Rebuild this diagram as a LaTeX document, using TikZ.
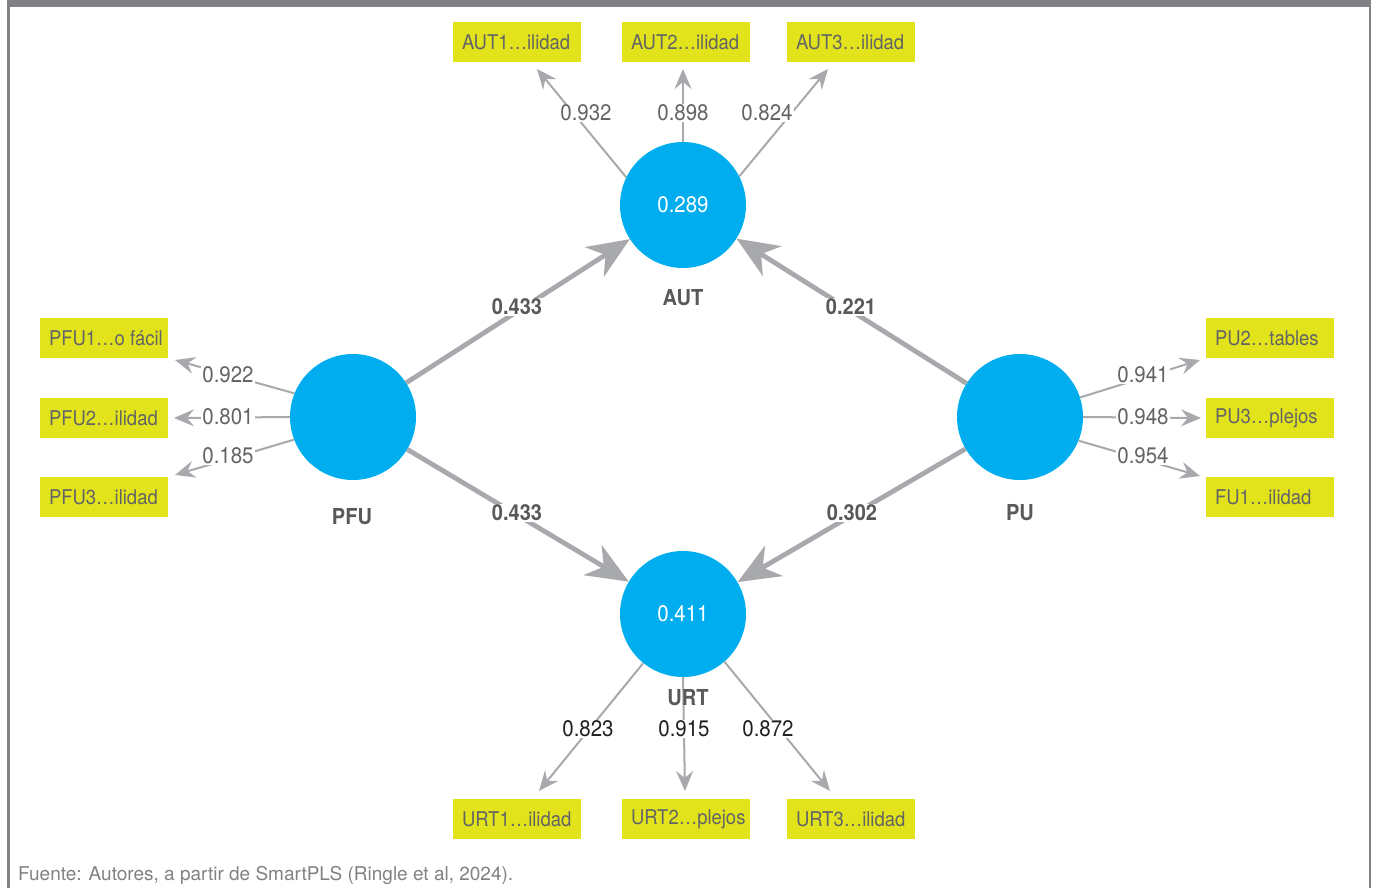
\documentclass[tikz,border=0pt]{standalone}
\usepackage{fontspec}
\setmainfont{TeX Gyre Heros}
\newfontfamily\cfont[FakeStretch=0.91]{TeX Gyre Heros}
\usetikzlibrary{arrows.meta}
\definecolor{cyanc}{HTML}{00AEEF}
\definecolor{yelc}{HTML}{E2E31A}
\definecolor{arrc}{HTML}{A7A9AC}
\definecolor{txtc}{HTML}{636466}
\definecolor{dtxt}{HTML}{58595B}
\definecolor{bordc}{HTML}{808184}
\definecolor{blk}{HTML}{231F20}
\newcommand\indtext[1]{\makebox[110pt][l]{#1}}
\tikzset{
  lvbox/.style={circle, fill=cyanc, minimum size=126pt, inner sep=0pt, text=white, font=\cfont\fontsize{22.5}{24}\selectfont},
  indbox/.style={rectangle, fill=yelc, inner xsep=9pt, inner ysep=0pt, minimum width=128pt, minimum height=40pt, text=txtc, font=\cfont\fontsize{20.3}{22}\selectfont},
  loadarr/.style={draw=arrc, line width=2pt, -{Stealth[length=20pt,width=17pt,inset=7pt]}},
  patharr/.style={draw=arrc, line width=4.8pt, -{Stealth[length=42pt,width=35pt,inset=13pt]}},
  loadlbl/.style={fill=white, inner sep=1pt, text=txtc, font=\cfont\fontsize{22.5}{24}\selectfont},
  pathlbl/.style={fill=white, inner sep=1pt, text=dtxt, font=\cfont\bfseries\fontsize{22}{24}\selectfont},
  cname/.style={inner sep=0pt, text=dtxt, font=\cfont\bfseries\fontsize{22}{24}\selectfont}
}
\begin{document}
\begin{tikzpicture}[x=1pt,y=-1pt]
\useasboundingbox (0,0) rectangle (1373,888);
% frame
\fill[bordc] (7,0) rectangle (1371,7);
\fill[bordc] (7,0) rectangle (9.5,888);
\fill[bordc] (1368.5,0) rectangle (1371,888);
% latent variables
\node[lvbox] (AUT) at (683,205) {0.289};
\node[lvbox] (URT) at (683,614) {0.411};
\node[lvbox] (PFU) at (353,417) {};
\node[lvbox] (PU) at (1020,417) {};
% indicators
\node[indbox] (AUT1) at (517,42) {\indtext{AUT1…ilidad}};
\node[indbox] (AUT2) at (686,42) {\indtext{AUT2…ilidad}};
\node[indbox] (AUT3) at (851,42) {\indtext{AUT3…ilidad}};
\node[indbox] (PFU1) at (104,338) {\indtext{PFU1…o fácil}};
\node[indbox] (PFU2) at (104,418) {\indtext{PFU2…ilidad}};
\node[indbox] (PFU3) at (104,497) {\indtext{PFU3…ilidad}};
\node[indbox] (PU2) at (1270,338) {\indtext{PU2…tables}};
\node[indbox] (PU3) at (1270,418) {\indtext{PU3…plejos}};
\node[indbox] (FU1) at (1270,497) {\indtext{FU1…ilidad}};
\node[indbox] (URT1) at (517,819) {\indtext{URT1…ilidad}};
\node[indbox] (URT2) at (686,819) {\indtext{URT2…plejos}};
\node[indbox] (URT3) at (851,819) {\indtext{URT3…ilidad}};
% arrow tips near the indicators
\coordinate (tAUT1) at (537,69);
\coordinate (tAUT2) at (683,69);
\coordinate (tAUT3) at (828,69);
\coordinate (tPFU1) at (175,360);
\coordinate (tPFU2) at (174,418);
\coordinate (tPFU3) at (175,475);
\coordinate (tPU2) at (1200,360);
\coordinate (tPU3) at (1201,418);
\coordinate (tFU1) at (1200,476);
\coordinate (tURT1) at (539,791);
\coordinate (tURT2) at (685,791);
\coordinate (tURT3) at (830,791);
% loading arrows
\draw[loadarr] (AUT.154) -- (tAUT1);
\draw[loadarr] (AUT.north) -- (tAUT2);
\draw[loadarr] (AUT.27) -- (tAUT3);
\draw[loadarr] (PFU.158) -- (tPFU1);
\draw[loadarr] (PFU.west) -- (tPFU2);
\draw[loadarr] (PFU.201) -- (tPFU3);
\draw[loadarr] (PU.18) -- (tPU2);
\draw[loadarr] (PU.east) -- (tPU3);
\draw[loadarr] (PU.338) -- (tFU1);
\draw[loadarr] (URT.231) -- (tURT1);
\draw[loadarr] (URT.south) -- (tURT2);
\draw[loadarr] (URT.311) -- (tURT3);
% structural paths
\draw[patharr] (PFU) -- (AUT);
\draw[patharr] (PU) -- (AUT);
\draw[patharr] (PFU) -- (URT);
\draw[patharr] (PU) -- (URT);
% loading labels
\node[loadlbl] (l1) at (586,113) {0.932};
\node[loadlbl] (l2) at (683,113) {0.898};
\node[loadlbl] (l3) at (767,113) {0.824};
\node[loadlbl] (l4) at (228,375) {0.922};
\node[loadlbl] (l5) at (228,417) {0.801};
\node[loadlbl] (l6) at (228,456) {0.185};
\node[loadlbl] (l7) at (1143,375) {0.941};
\node[loadlbl] (l8) at (1143,417) {0.948};
\node[loadlbl] (l9) at (1143,456) {0.954};
\node[loadlbl,text=blk] (l10) at (588,729) {0.823};
\node[loadlbl,text=blk] (l11) at (684,729) {0.915};
\node[loadlbl,text=blk] (l12) at (768,729) {0.872};
% path labels
\node[pathlbl] (p1) at (517,307) {0.433};
\node[pathlbl] (p2) at (851,307) {0.221};
\node[pathlbl] (p3) at (517,513) {0.433};
\node[pathlbl] (p4) at (852,513) {0.302};
% construct names
\node[cname] (nAUT) at (683,298) {AUT};
\node[cname] (nURT) at (688,698) {URT};
\node[cname] (nPFU) at (352,517) {PFU};
\node[cname] (nPU) at (1020,513) {PU};
% footer
\node[anchor=west, inner sep=0pt, text=bordc, font=\fontsize{19}{21}\selectfont] (src) at (18,875) {Fuente: Autores, a partir de SmartPLS (Ringle et al, 2024).};
\end{tikzpicture}
\end{document}
